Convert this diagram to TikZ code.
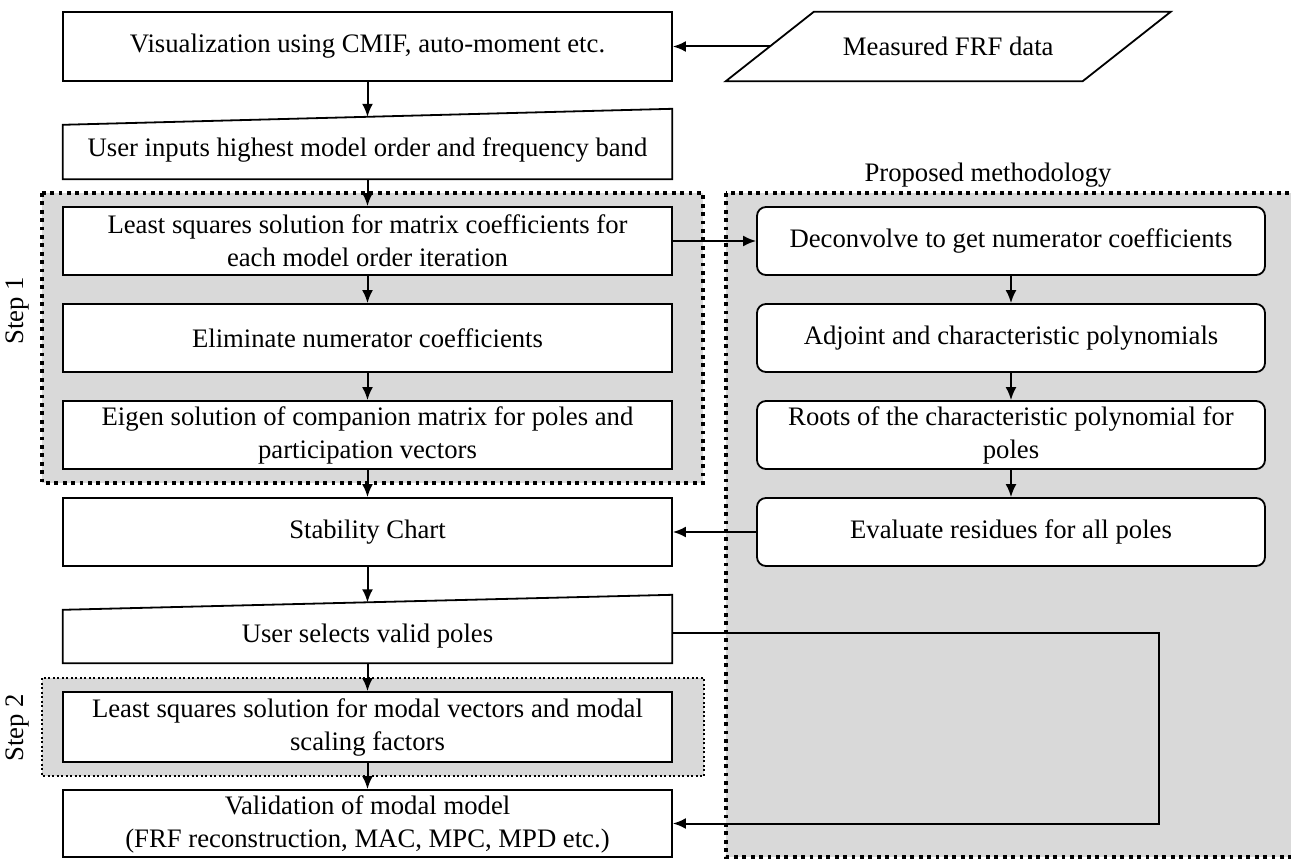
\documentclass[tikz,border=0pt]{standalone}
\usepackage{fontspec}
\setmainfont{Liberation Serif}
\usetikzlibrary{arrows.meta}
\definecolor{regiongray}{HTML}{D9D9D9}
\begin{document}
\begin{tikzpicture}[x=1pt,y=-1pt,
  txt/.style={font=\fontsize{26.7}{33}\selectfont, align=center, inner sep=0pt},
  box/.style={txt, draw, line width=1.8pt, fill=white, minimum width=609pt, minimum height=68pt},
  rbox/.style={box, rounded corners=9pt, minimum width=508pt},
  plain/.style={txt, minimum width=609pt},
  arr/.style={draw, line width=2pt, -{Latex[length=13pt,width=11pt]}},
  outline/.style={draw, line width=1.8pt, fill=white},
  region/.style={fill=regiongray, line width=3.8pt, dash pattern=on 3.8pt off 4.6pt},
  thinregion/.style={fill=regiongray, line width=2pt, dash pattern=on 2pt off 2.5pt}
]
\useasboundingbox (0,0) rectangle (1291,859);

% grouping regions
\draw[region] (726,193) rectangle (1297,857);
\draw[region] (42,193) rectangle (703,483);
\draw[thinregion] (42,678) rectangle (704,776);

\node[txt] (proplabel) at (988,175) {Proposed methodology};
\node[txt, rotate=90] (step1) at (18,311) {Step 1};
\node[txt, rotate=90] (step2) at (18,728) {Step 2};

% input data (parallelogram)
\node[txt, minimum width=356.5pt, minimum height=69pt] (meas) at (948.25,46.5) {};
\draw[outline] ([xshift=-44pt]meas.south west) -- ([xshift=-44pt]meas.south east)
  -- ([xshift=44pt]meas.north east) -- ([xshift=44pt]meas.north west) -- cycle;
\node[txt] at (meas.center) {Measured FRF data};

% main column
\node[box, minimum height=69pt] (viz) at (367.5,46.5) {Visualization using CMIF, auto-moment etc.};

\node[plain, minimum height=62pt] (ui) at (367.5,148) {};
\draw[outline] (ui.south west) -- (ui.south east) -- ([yshift=8pt]ui.north east)
  -- ([yshift=-8pt]ui.north west) -- cycle;
\node[txt] at ([yshift=-2pt]ui.center) {User inputs highest model order and frequency band};

\node[box] (ls1) at (367.5,241) {Least squares solution for matrix coefficients for\\each model order iteration};
\node[box] (elim) at (367.5,338) {Eliminate numerator coefficients};
\node[box] (eig) at (367.5,435) {Eigen solution of companion matrix for poles and\\participation vectors};
\node[box] (stab) at (367.5,532) {Stability Chart};

\node[plain, minimum height=60.5pt] (us) at (367.5,632.75) {};
\draw[outline] (us.south west) -- (us.south east) -- ([yshift=7.5pt]us.north east)
  -- ([yshift=-7.5pt]us.north west) -- cycle;
\node[txt] at ([yshift=-3pt]us.center) {User selects valid poles};

\node[box, minimum height=70pt] (ls2) at (367.5,727) {Least squares solution for modal vectors and modal\\scaling factors};
\node[box, minimum height=67pt, text depth=4pt] (val) at (367.5,823.5) {Validation of modal model\\(FRF reconstruction, MAC, MPC, MPD etc.)};

% proposed methodology column
\node[rbox] (dec) at (1011,241) {Deconvolve to get numerator coefficients};
\node[rbox] (adj) at (1011,338) {Adjoint and characteristic polynomials};
\node[rbox] (roots) at (1011,435) {Roots of the characteristic polynomial for\\poles};
\node[rbox] (eval) at (1011,532) {Evaluate residues for all poles};

\coordinate (turn) at (1159,0);

% connectors
\draw[arr] (meas.west) -- (viz.east);
\draw[arr] (viz.south) -- (ui.north);
\draw[arr] (ui.south) -- (ls1.north);
\draw[arr] (ls1.south) -- (elim.north);
\draw[arr] (elim.south) -- (eig.north);
\draw[arr] (eig.south) -- (stab.north);
\draw[arr] (stab.south) -- (us.north);
\draw[arr] (us.south) -- (ls2.north);
\draw[arr] (ls2.south) -- (val.north);
\draw[arr] (ls1.east) -- (dec.west);
\draw[arr] (dec.south) -- (adj.north);
\draw[arr] (adj.south) -- (roots.north);
\draw[arr] (roots.south) -- (eval.north);
\draw[arr] (eval.west) -- (stab.east);
\draw[arr] (us.east) -- (us.east -| turn) -- (turn |- val.east) -- (val.east);
\end{tikzpicture}
\end{document}
